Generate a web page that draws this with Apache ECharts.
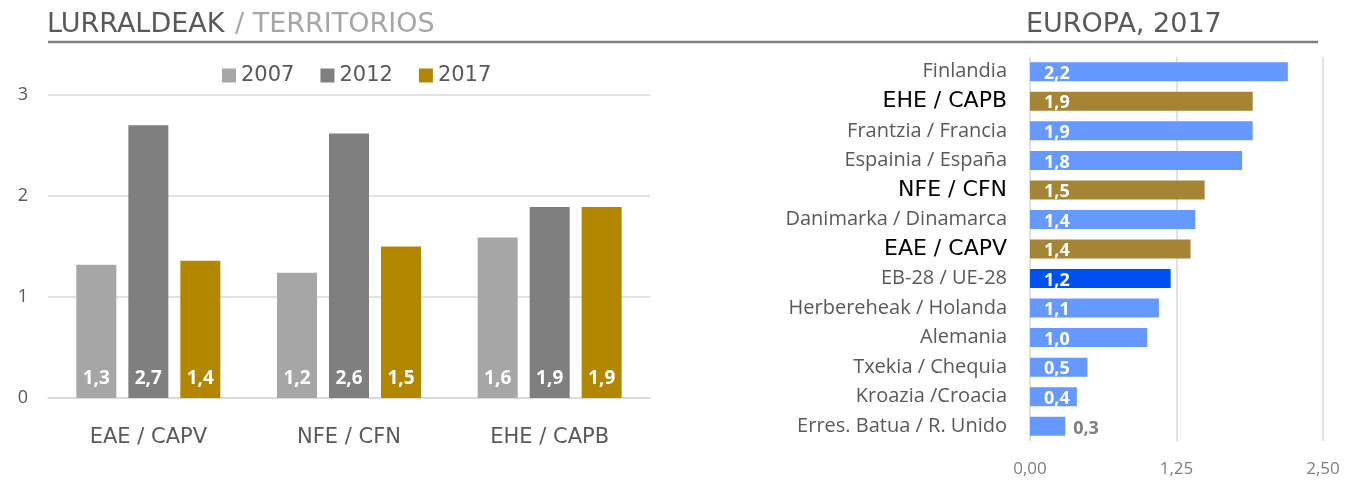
<!DOCTYPE html>
<html>
<head>
<meta charset="utf-8">
<title>Lurraldeak / Territorios</title>
<script src="https://cdn.jsdelivr.net/npm/echarts@6/dist/echarts.min.js"></script>
<style>
    html, body { margin: 0; padding: 0; background: #fff; }
    #chart { width: 1350px; height: 484px; }
</style>
</head>
<body>
<div id="chart"></div>
<script>

// [ Data ]

const territories = ['EAE / CAPV', 'NFE / CFN', 'EHE / CAPB'];
const years = ['2007', '2012', '2017'];
const v2007 = [1.32, 1.24, 1.59];
const v2012 = [2.70, 2.62, 1.89];
const v2017 = [1.36, 1.50, 1.89];

const countries = [
    'Finlandia', 'EHE / CAPB', 'Frantzia / Francia', 'Espainia / España', 'NFE / CFN',
    'Danimarka / Dinamarca', 'EAE / CAPV', 'EB-28 / UE-28', 'Herbereheak / Holanda',
    'Alemania', 'Txekia / Chequia', 'Kroazia /Croacia', 'Erres. Batua / R. Unido'
];
const rates = [2.2, 1.9, 1.9, 1.81, 1.49, 1.41, 1.37, 1.2, 1.1, 1.0, 0.49, 0.4, 0.3];
const basque = ['EHE / CAPB', 'NFE / CFN', 'EAE / CAPV'];
const europeTicks = [0, 1.25, 2.5];

//////////////////////////////////////////////////////////////////

const yearColors = ['#a6a6a6', '#7f7f7f', '#b38600'];
const comma = (v, d) => v.toFixed(d).replace('.', ',');
const mainFont = 'DejaVu Sans';
const labelFont = 'Open Sans';

const barLabel = {
    show: true,
    position: 'insideBottom',
    distance: 10,
    color: '#fff',
    fontFamily: labelFont,
    fontWeight: 'bold',
    fontSize: 19,
    formatter: p => comma(p.value, 1)
};

const yearSeries = [v2007, v2012, v2017].map((vals, i) => ({
    name: years[i],
    type: 'bar',
    xAxisIndex: 0,
    yAxisIndex: 0,
    data: vals,
    barWidth: 40,
    barGap: '30%',
    itemStyle: { color: yearColors[i] },
    label: barLabel
}));

const europeData = countries.map((c, i) => {
    let color = '#6699ff';
    if (basque.includes(c)) color = '#a58535';
    if (c.startsWith('EB-28')) color = '#0050f0';
    const item = { value: rates[i], itemStyle: { color } };
    if (i === countries.length - 1) {
        item.label = { position: 'right', distance: 8, color: '#7f7f7f', offset: [0, 3] };
    }
    return item;
});

const chart = echarts.init(document.getElementById('chart'));

chart.setOption({
    animation: false,
    textStyle: { fontFamily: labelFont },
    graphic: [
        {
            type: 'text', left: 47, top: 11,
            style: { text: 'LURRALDEAK', fontFamily: mainFont, fontSize: 27, fill: '#595959' }
        },
        {
            type: 'text', left: 235, top: 11,
            style: { text: '/ TERRITORIOS', fontFamily: mainFont, fontSize: 27, fill: '#a6a6a6' }
        },
        {
            type: 'text', left: 1026, top: 11,
            style: { text: 'EUROPA, 2017', fontFamily: mainFont, fontSize: 27, fill: '#595959' }
        },
        {
            type: 'line',
            shape: { x1: 48, y1: 42, x2: 1318, y2: 42 },
            style: { stroke: '#7f7f7f', lineWidth: 2.5 }
        }
    ],
    legend: {
        data: years,
        left: 217,
        top: 60,
        itemWidth: 14,
        itemHeight: 14,
        itemGap: 26,
        icon: 'rect',
        textStyle: { fontFamily: mainFont, fontSize: 21, color: '#595959' }
    },
    grid: [
        { left: 48, right: 700, top: 95, bottom: 86 },
        { left: 1030, right: 27, top: 57, bottom: 43 }
    ],
    xAxis: [
        {
            gridIndex: 0,
            type: 'category',
            data: territories,
            axisLine: { lineStyle: { color: '#d9d9d9', width: 1.5 } },
            axisTick: { show: false },
            axisLabel: { margin: 29, fontFamily: mainFont, fontSize: 21, color: '#595959' }
        },
        {
            gridIndex: 1,
            type: 'value',
            min: europeTicks[0],
            max: europeTicks[europeTicks.length - 1],
            interval: europeTicks[1],
            axisLine: { show: false },
            axisTick: { show: false },
            splitLine: { lineStyle: { color: '#d9d9d9', width: 1.5 } },
            axisLabel: { margin: 20, fontSize: 17, color: '#7f7f7f', formatter: v => comma(v, 2) }
        }
    ],
    yAxis: [
        {
            gridIndex: 0,
            type: 'value',
            min: 0,
            max: 3,
            interval: 1,
            axisLine: { show: false },
            axisTick: { show: false },
            splitLine: { lineStyle: { color: '#d9d9d9', width: 1.5 } },
            axisLabel: { margin: 25, fontSize: 18, color: '#595959', align: 'center' }
        },
        {
            gridIndex: 1,
            type: 'category',
            data: countries,
            inverse: true,
            axisLine: { show: false },
            axisTick: { show: false },
            axisLabel: {
                margin: 23,
                formatter: v => basque.includes(v) ? '{b|' + v + '}' : v,
                fontSize: 20,
                color: '#595959',
                rich: {
                    b: { fontFamily: mainFont, fontSize: 22, color: '#000', fontWeight: 500 }
                }
            }
        }
    ],
    series: [
        ...yearSeries,
        {
            name: 'Europa',
            type: 'bar',
            xAxisIndex: 1,
            yAxisIndex: 1,
            data: europeData,
            barWidth: 19,
            label: {
                show: true,
                position: 'insideLeft',
                distance: 14,
                offset: [0, 2],
                color: '#fff',
                fontWeight: 'bold',
                fontSize: 18,
                formatter: p => comma(p.value, 1)
            }
        }
    ]
});

window.addEventListener('resize', () => chart.resize());
</script>
</body>
</html>
